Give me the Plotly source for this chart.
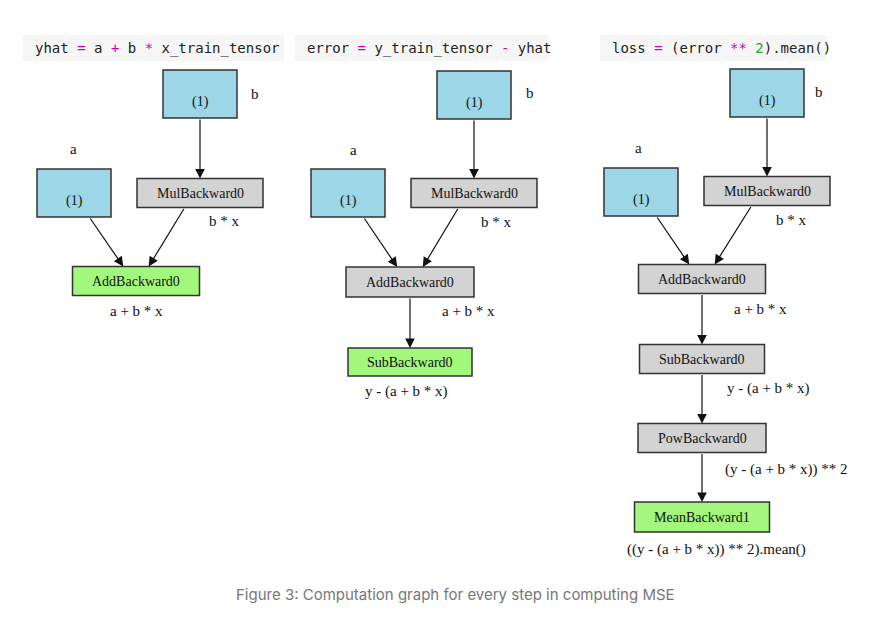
import plotly.graph_objects as go

# nodes: (name, label, cx, cy, w, h, kind)
node_names = ["b1", "a1", "mul1", "add1",
              "b2", "a2", "mul2", "add2", "sub2",
              "b3", "a3", "mul3", "add3", "sub3", "pow3", "mean3"]
node_labels = ["(1)", "(1)", "MulBackward0", "AddBackward0",
               "(1)", "(1)", "MulBackward0", "AddBackward0", "SubBackward0",
               "(1)", "(1)", "MulBackward0", "AddBackward0", "SubBackward0", "PowBackward0", "MeanBackward1"]
node_cx = [192, 66, 192, 128, 466, 340, 466, 402, 402, 759, 633, 759, 694, 694, 694, 694]
node_cy = [86, 185, 185, 273, 87, 185, 185, 274, 354, 85, 184, 183, 271, 351, 430, 509]
node_w = [74, 74, 126, 127, 74, 74, 126, 128, 124, 74, 74, 126, 127, 125, 128, 135]
node_h = [48, 48, 29, 29, 48, 48, 29, 30, 28, 48, 48, 29, 29, 29, 29, 30]
node_kind = ["leaf", "leaf", "op", "out", "leaf", "leaf", "op", "op", "out",
             "leaf", "leaf", "op", "op", "op", "op", "out"]

edges = [("b1", "mul1"), ("a1", "add1"), ("mul1", "add1"),
         ("b2", "mul2"), ("a2", "add2"), ("mul2", "add2"), ("add2", "sub2"),
         ("b3", "mul3"), ("a3", "add3"), ("mul3", "add3"), ("add3", "sub3"),
         ("sub3", "pow3"), ("pow3", "mean3")]

# free labels: (text, x, y)
labels = [("b", 247, 86), ("a", 65, 141), ("b * x", 216, 213), ("a + b * x", 128, 303),
          ("b", 522, 85), ("a", 345, 142), ("b * x", 488, 214), ("a + b * x", 460, 303),
          ("y - (a + b * x)", 398, 383),
          ("b", 811, 84), ("a", 630, 140), ("b * x", 783, 212), ("a + b * x", 752, 301),
          ("y - (a + b * x)", 760, 380), ("(y - (a + b * x)) ** 2", 778, 461),
          ("((y - (a + b * x)) ** 2).mean()", 708, 541)]

P = "<span style='color:#cc00cc'>%s</span>"
G = "<span style='color:#22aa22'>%s</span>"
code_texts = ["yhat " + P % "=" + " a " + P % "+" + " b " + P % "*" + " x_train_tensor",
              "error " + P % "=" + " y_train_tensor " + P % "-" + " yhat",
              "loss " + P % "=" + " (error " + P % "**" + " " + G % "2" + ").mean()"]
code_box = [(15, 276), (287, 541), (592, 818)]

fill = {"leaf": "#9dd6e6", "op": "#d3d3d3", "out": "#a2f77c"}
idx = {n: i for i, n in enumerate(node_names)}

fig = go.Figure()
fig.add_trace(go.Scatter(x=[0, 891], y=[0, 621], mode="markers", marker=dict(opacity=0), hoverinfo="skip"))

for (x0, x1), t in zip(code_box, code_texts):
    fig.add_shape(type="rect", x0=x0, x1=x1, y0=27, y1=53, fillcolor="#f6f6f6", line_width=0, layer="below")
    fig.add_annotation(x=x0 + 10, y=40, text=t, showarrow=False, xanchor="left",
                       font=dict(family="DejaVu Sans Mono", size=14, color="#222"))

for i, n in enumerate(node_names):
    cx, cy, w, h = node_cx[i], node_cy[i], node_w[i], node_h[i]
    fig.add_shape(type="rect", x0=cx - w / 2, x1=cx + w / 2, y0=cy - h / 2, y1=cy + h / 2,
                  fillcolor=fill[node_kind[i]], line=dict(color="#333", width=1.5))
    ty = cy + 8 if node_kind[i] == "leaf" else cy
    fig.add_annotation(x=cx, y=ty, text=node_labels[i], showarrow=False,
                       font=dict(family="Liberation Serif", size=14, color="#111"))

for s, t in edges:
    i, j = idx[s], idx[t]
    sx, sy = node_cx[i], node_cy[i] + node_h[i] / 2
    tx, ty = node_cx[j], node_cy[j] - node_h[j] / 2
    if node_cx[i] != node_cx[j]:
        off = node_w[j] * 0.1 * (1 if node_cx[i] > node_cx[j] else -1)
        tx += off
        sx -= off * 1.2
    fig.add_annotation(x=tx, y=ty, ax=sx, ay=sy, xref="x", yref="y", axref="x", ayref="y",
                       text="", showarrow=True, arrowhead=2, arrowsize=1.6, arrowwidth=1.2,
                       arrowcolor="#111")

for t, x, y in labels:
    fig.add_annotation(x=x, y=y, text=t, showarrow=False,
                       font=dict(family="Liberation Serif", size=15, color="#111"))

fig.add_annotation(x=447, y=586, text="Figure 3: Computation graph for every step in computing MSE",
                   showarrow=False, font=dict(family="Inter", size=15, color="#777"))

fig.update_layout(width=891, height=621, margin=dict(l=0, r=0, t=0, b=0),
                  plot_bgcolor="white", paper_bgcolor="white", showlegend=False,
                  xaxis=dict(range=[0, 891], visible=False),
                  yaxis=dict(range=[621, 0], visible=False))
fig.write_html("out.html")
